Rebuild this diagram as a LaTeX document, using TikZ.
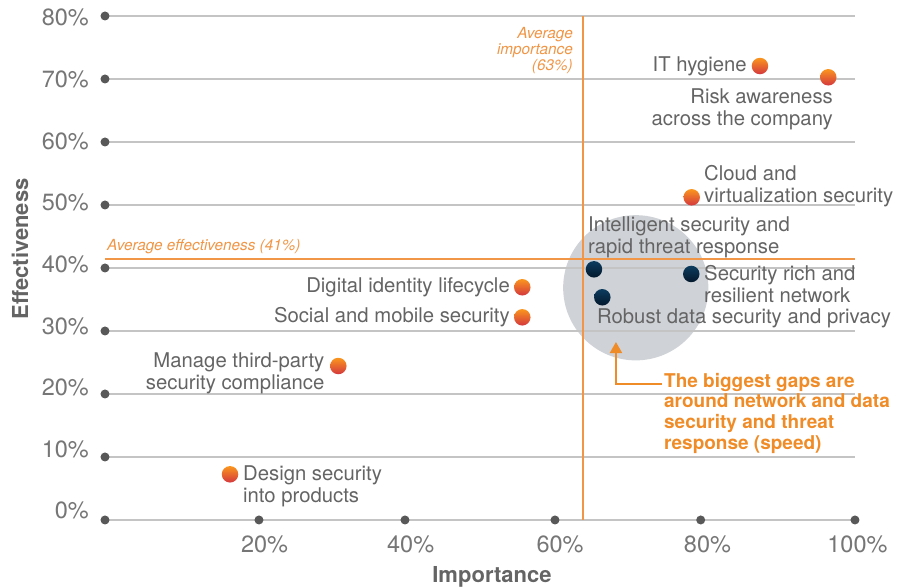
\documentclass[tikz,border=0pt]{standalone}
\usepackage{fontspec}
\setmainfont{TeX Gyre Heros}
\usetikzlibrary{arrows.meta}

\definecolor{gridgray}{RGB}{196,196,196}
\definecolor{dotgray}{RGB}{88,88,88}
\definecolor{txtgray}{RGB}{100,100,100}
\definecolor{tickgray}{RGB}{118,118,118}
\definecolor{avgorange}{RGB}{240,150,70}
\definecolor{noteorange}{RGB}{240,140,40}
\definecolor{ptorange}{RGB}{250,150,30}
\definecolor{ptred}{RGB}{212,55,62}
\definecolor{pttop}{RGB}{12,60,95}
\definecolor{ptbottom}{RGB}{4,24,44}
\definecolor{gapgray}{RGB}{207,210,214}

\begin{document}
\begin{tikzpicture}[x=7.5pt, y=6.3pt,
  tick/.style={circle, fill=dotgray, inner sep=0pt, minimum size=9pt},
  gridline/.style={gridgray, line width=1.1pt},
  avgline/.style={avgorange, line width=2pt},
  riskpt/.style={circle, inner sep=0pt, minimum size=16.5pt, top color=ptorange, bottom color=ptred},
  gappt/.style={circle, inner sep=0pt, minimum size=16.5pt, top color=pttop, bottom color=ptbottom},
  itemlabel/.style={inner sep=0pt, text=txtgray, font=\fontsize{20.3pt}{22pt}\selectfont},
  ticklabel/.style={inner sep=0pt, text=tickgray, font=\fontsize{23.5pt}{26pt}\selectfont},
  avglabel/.style={inner sep=0pt, text=avgorange, font=\fontsize{15.3pt}{16pt}\selectfont\itshape},
  axistitle/.style={inner sep=0pt, text=txtgray, font=\fontsize{22pt}{24pt}\selectfont\bfseries},
  gapnote/.style={inner sep=0pt, text=noteorange, align=left, font=\fontsize{19pt}{20.8pt}\selectfont\bfseries},
  gaparrow/.style={noteorange, line width=2pt, -{Triangle[width=12pt, length=11pt]}}]

  \useasboundingbox (-14,-10.79) rectangle (105.87,82.54);

  % Gap area behind the grid
  \fill[gapgray] (70.77,36.86) circle[radius=72.6pt];

  % Grid and axis dots
  \foreach \v in {0,10,...,80} {
    \draw[gridline] (0,\v) -- (100,\v);
    \node[tick] (y\v) at (0,\v) {};
    \node[ticklabel, anchor=east] at (-2.13,{1.46+0.978*\v}) {\v\%};
  }
  \foreach \v/\dx/\lx in {20/20.53/21.27, 40/40/40.76, 60/60/60.67, 80/79.43/80.33, 100/100/100.33} {
    \node[tick] (x\v) at (\dx,0) {};
    \node[ticklabel] at (\lx,-3.81) {\v\%};
  }

  % Averages
  \draw[avgline] (63.69,80) -- (63.69,0);
  \draw[avgline] (0,41.43) -- (100,41.43);
  \node[avglabel, anchor=east, align=right] (avgimp) at (62.4,74.52) {Average\\importance\\(63\%)};
  \node[avglabel, anchor=west] (avgeff) at (0.27,43.41) {Average effectiveness (41\%)};

  % Axis titles
  \node[axistitle, rotate=90] (ytitle) at (-11.33,43.02) {Effectiveness};
  \node[axistitle] (xtitle) at (51.6,-9.05) {Importance};

  % Define points
  \node[riskpt] (ithyg) at (87.33,72.06) {};
  \node[riskpt] (riskaw) at (96.44,70.27) {};
  \node[riskpt] (cloud) at (78.23,51.22) {};
  \node[riskpt] (digid) at (55.64,36.94) {};
  \node[riskpt] (social) at (55.64,32.17) {};
  \node[riskpt] (thirdp) at (31.11,24.44) {};
  \node[riskpt] (design) at (16.67,7.25) {};
  \node[gappt] (intel) at (65.2,39.79) {};
  \node[gappt] (network) at (78.17,39.05) {};
  \node[gappt] (robust) at (66.31,35.35) {};

  % Point labels
  \node[itemlabel, anchor=east] at (85.6,72.06) {IT hygiene};
  \node[itemlabel, anchor=east, align=right] at (97.07,65.24) {Risk awareness\\across the company};
  \node[itemlabel, anchor=west, align=left] at (79.87,53.02) {Cloud and\\virtualization security};
  \node[itemlabel, anchor=west, align=left] at (64.4,44.84) {Intelligent security and\\rapid threat response};
  \node[itemlabel, anchor=west, align=left] at (79.87,37.38) {Security rich and\\resilient network};
  \node[itemlabel, anchor=west] at (65.6,32.06) {Robust data security and privacy};
  \node[itemlabel, anchor=east] at (54,36.98) {Digital identity lifecycle};
  \node[itemlabel, anchor=east] at (54,32.22) {Social and mobile security};
  \node[itemlabel, anchor=east, align=right] at (29.27,23.25) {Manage third-party\\security compliance};
  \node[itemlabel, anchor=west, align=left] at (18.4,5.4) {Design security\\into products};

  % Callout
  \node[gapnote, anchor=north west] (gapnote) at (74.53,23.38) {The biggest gaps are\\around network and data\\security and threat\\response (speed)};
  \coordinate (gaptip) at (68.13,28.25);
  \draw[gaparrow] ([xshift=-2pt, yshift=-11.5pt]gapnote.north west) -| (gaptip);
\end{tikzpicture}
\end{document}
